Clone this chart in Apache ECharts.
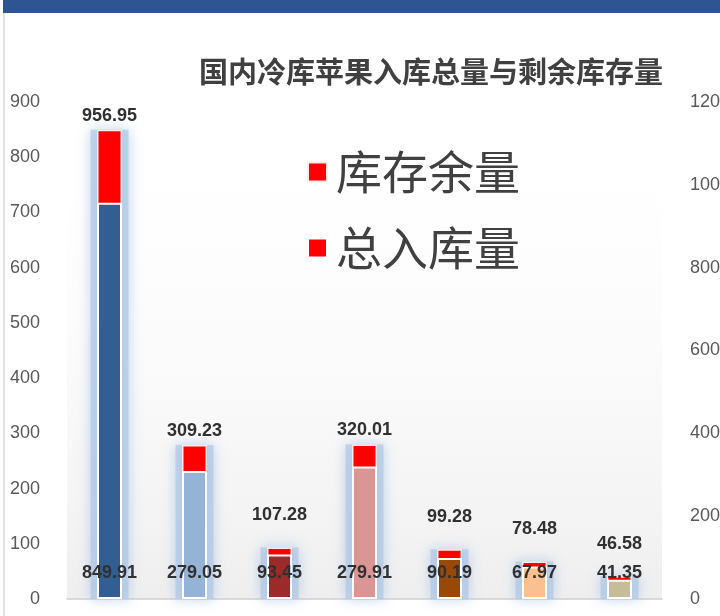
<!DOCTYPE html>
<html>
<head>
<meta charset="utf-8">
<script src="https://cdn.jsdelivr.net/npm/echarts@6/dist/echarts.min.js"></script>
<style>
html,body{margin:0;padding:0;background:#fff;}
#c{width:720px;height:616px;}
</style>
</head>
<body>
<div id="c"></div>
<script>
// ---- data ----
var categories = ['1', '2', '3', '4', '5', '6', '7'];
var totalInbound = [956.95, 309.23, 107.28, 320.01, 99.28, 78.48, 46.58];   // 总入库量 (right axis)
var remaining = [849.91, 279.05, 93.45, 279.91, 90.19, 67.97, 41.35];       // 库存余量 (left axis)
var barColors = ['#335E92', '#95B3D7', '#9C2A2A', '#D99694', '#984807', '#FAC090', '#C4BD97'];
var leftTicks = [0, 900, 100];
var rightTicks = [0, 1200, 200];
var titleText = '国内冷库苹果入库总量与剩余库存量';
var seriesNames = ['库存余量', '总入库量'];

var chart = echarts.init(document.getElementById('c'), null, {renderer: 'canvas'});

var redData = remaining.map(function (v, i) {
  return {
    value: v,
    label: { distance: v < 150 ? 23 : 5 }
  };
});
var inboundData = totalInbound.map(function (v, i) {
  return { value: v, itemStyle: { color: barColors[i] } };
});

var option = {
  backgroundColor: '#ffffff',
  animation: false,
  title: {
    text: titleText,
    left: 194,
    top: 52,
    textStyle: { fontFamily: 'Noto Sans CJK SC', fontSize: 29, fontWeight: 'bold', color: '#404040' }
  },
  legend: {
    orient: 'vertical',
    left: 302,
    top: 144,
    itemWidth: 19,
    itemHeight: 19,
    itemGap: 30,
    icon: 'rect',
    textStyle: { fontFamily: 'Noto Sans CJK SC', fontSize: 46, color: '#404040', padding: [0, 0, 0, 4] },
    data: [
      { name: seriesNames[0], itemStyle: { color: '#FF0000' } },
      { name: seriesNames[1], itemStyle: { color: '#FF0000' } }
    ]
  },
  grid: {
    left: 67, right: 58, top: 102, bottom: 17,
    containLabel: false,
    outerBoundsMode: 'none',
    show: true,
    borderWidth: 0,
    backgroundColor: new echarts.graphic.LinearGradient(0, 0, 0, 1, [
      { offset: 0, color: 'rgba(255,255,255,0)' },
      { offset: 1, color: 'rgba(225,225,225,0.55)' }
    ])
  },
  xAxis: [
    {
      type: 'category',
      data: categories,
      axisLine: { show: true, lineStyle: { color: '#D0D0D0', width: 1.5 } },
      axisTick: { show: false },
      axisLabel: { show: false }
    },
    {
      type: 'category',
      data: categories,
      show: false
    }
  ],
  yAxis: [
    {
      type: 'value', min: leftTicks[0], max: leftTicks[1], interval: leftTicks[2],
      axisLine: { show: false }, axisTick: { show: false }, splitLine: { show: false },
      axisLabel: { margin: 27, color: '#595959', fontSize: 18, fontFamily: 'Liberation Sans',
        formatter: function (v) { return String(v); } }
    },
    {
      type: 'value', min: rightTicks[0], max: rightTicks[1], interval: rightTicks[2],
      position: 'right',
      axisLine: { show: false }, axisTick: { show: false }, splitLine: { show: false },
      axisLabel: { margin: 28, color: '#595959', fontSize: 18, fontFamily: 'Liberation Sans', align: 'left',
        formatter: function (v) { return String(v); } }
    }
  ],
  series: [
    {
      // glow halo behind the remaining-stock bars
      name: 'glow',
      type: 'bar',
      xAxisIndex: 1,
      yAxisIndex: 0,
      barWidth: 38,
      data: remaining,
      silent: true,
      legendHoverLink: false,
      itemStyle: {
        color: 'rgba(175,200,230,0.7)',
        shadowBlur: 14,
        shadowColor: 'rgba(160,188,224,0.95)'
      },
      z: 1
    },
    {
      name: seriesNames[0],
      type: 'bar',
      yAxisIndex: 0,
      barWidth: 25,
      barGap: '-100%',
      data: redData,
      itemStyle: {
        color: '#FF0000',
        borderColor: '#FDE9E9',
        borderWidth: 1.5
      },
      label: {
        show: true,
        position: 'top',
        formatter: function (p) { return totalInbound[p.dataIndex].toFixed(2); },
        fontFamily: 'Liberation Sans',
        fontWeight: 'bold',
        fontSize: 18,
        color: '#303030'
      },
      z: 2
    },
    {
      name: seriesNames[1],
      type: 'bar',
      yAxisIndex: 1,
      barWidth: 25,
      barGap: '-100%',
      data: inboundData,
      itemStyle: { borderColor: '#FFFFFF', borderWidth: 2 },
      label: {
        show: true,
        position: 'insideBottom',
        distance: 17,
        formatter: function (p) { return remaining[p.dataIndex].toFixed(2); },
        fontFamily: 'Liberation Sans',
        fontWeight: 'bold',
        fontSize: 18,
        color: '#303030'
      },
      z: 3
    }
  ],
  graphic: [
    { type: 'rect', shape: { x: 3, y: 0, width: 717, height: 13 }, style: { fill: '#2E5592' }, z: 10 },
    { type: 'line', shape: { x1: 4, y1: 13, x2: 4, y2: 616 }, style: { stroke: '#D9D9D9', lineWidth: 1.5 }, z: 10 }
  ]
};
chart.setOption(option);
</script>
</body>
</html>
